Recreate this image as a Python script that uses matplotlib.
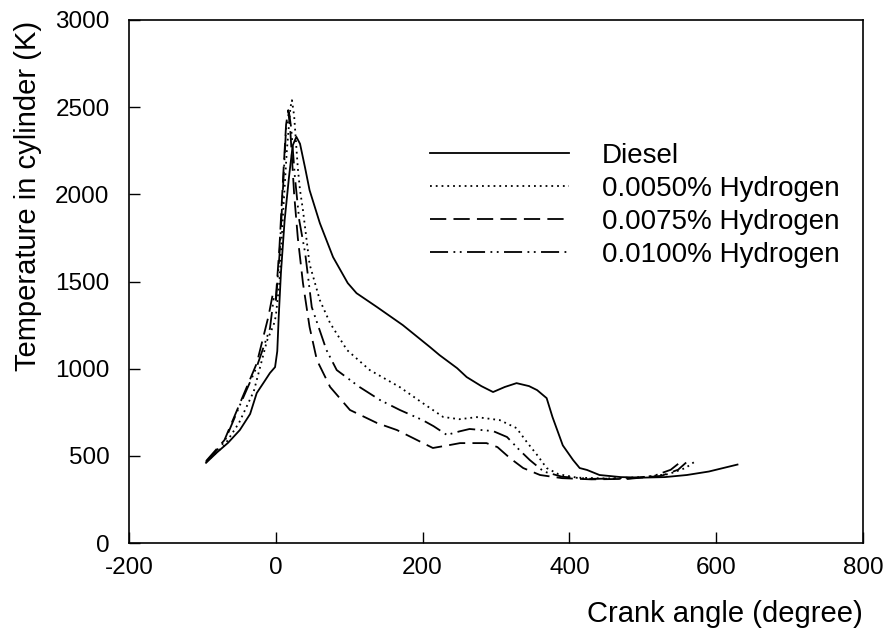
import matplotlib
matplotlib.use("Agg")
import matplotlib.pyplot as plt

plt.rcParams['font.family'] = ['Liberation Sans', 'DejaVu Sans']
plt.rcParams['axes.unicode_minus'] = False

# Diesel
diesel_x = [-95, -80, -65, -49, -35, -26, -15, -8, -1, 2, 4, 7, 12, 18, 23, 28, 33, 40, 46, 60, 78, 98, 110,
            138, 173, 210, 223, 247, 260, 280, 296, 312, 328, 345, 356, 369, 377, 391, 405, 414, 424, 441,
            470, 500, 530, 560, 590, 629]
diesel_y = [460, 520, 575, 648, 740, 860, 930, 975, 1009, 1100, 1300, 1550, 1850, 2100, 2280, 2330, 2290,
            2150, 2024, 1835, 1640, 1491, 1433, 1353, 1250, 1124, 1078, 1003, 952, 900, 866, 895, 917, 900,
            877, 831, 722, 560, 476, 430, 419, 390, 378, 375, 378, 390, 410, 450]

# 0.0050% Hydrogen
h050_x = [-95, -70, -50, -30, -12, -3, 0, 5, 10, 15, 20, 22, 25, 30, 33, 37, 42, 46, 60, 74, 97, 128, 169,
          200, 228, 250, 274, 305, 328, 342, 356, 369, 385, 410, 450, 500, 535, 558, 572]
h050_y = [465, 560, 690, 870, 1160, 1250, 1300, 1500, 1900, 2250, 2500, 2540, 2450, 2150, 2024, 1909, 1737,
          1600, 1393, 1261, 1107, 992, 894, 803, 723, 710, 722, 705, 659, 579, 505, 430, 395, 375, 370,
          378, 395, 430, 470]

# 0.0075% Hydrogen
h075_x = [-95, -70, -49, -26, -10, -4, 0, 5, 10, 14, 17, 20, 25, 30, 37, 46, 56, 74, 101, 138, 165, 187,
          214, 237, 251, 287, 302, 319, 337, 360, 390, 430, 480, 525, 548, 560]
h075_y = [470, 590, 800, 1030, 1300, 1430, 1400, 1700, 2100, 2400, 2483, 2350, 2000, 1750, 1491, 1239,
          1049, 895, 763, 688, 648, 602, 545, 562, 573, 573, 550, 487, 430, 390, 372, 365, 368, 385, 420, 465]

# 0.0100% Hydrogen
h100_x = [-95, -70, -49, -26, -8, -3, 0, 5, 10, 14, 18, 21, 26, 32, 40, 49, 69, 83, 114, 142, 169, 200,
          215, 233, 250, 264, 296, 315, 332, 346, 365, 390, 430, 480, 515, 538, 550]
h100_y = [465, 580, 790, 1010, 1230, 1400, 1380, 1650, 2050, 2380, 2470, 2380, 2100, 1850, 1663, 1353,
          1107, 992, 895, 820, 763, 705, 670, 620, 640, 654, 642, 608, 533, 476, 410, 380, 368, 370, 385,
          420, 460]

labels = ['Diesel', '0.0050% Hydrogen', '0.0075% Hydrogen', '0.0100% Hydrogen']
x_ticks = [-200, 0, 200, 400, 600, 800]
y_ticks = [0, 500, 1000, 1500, 2000, 2500, 3000]

fig = plt.figure(figsize=(8.93, 6.35), dpi=100)
ax = fig.add_axes([129 / 893, 1 - 543 / 635, (863 - 129) / 893, (543 - 20) / 635])

lw = 1.3
ax.plot(diesel_x, diesel_y, color='black', lw=lw, linestyle='-', label=labels[0])
ax.plot(h050_x, h050_y, color='black', lw=lw, linestyle=(0, (1, 2.2)), label=labels[1])
ax.plot(h075_x, h075_y, color='black', lw=lw, linestyle=(0, (9, 4)), label=labels[2])
ax.plot(h100_x, h100_y, color='black', lw=lw, linestyle=(0, (10, 3, 1, 2.5, 1, 3)), label=labels[3])

ax.set_xlim(-200, 800)
ax.set_ylim(0, 3000)
ax.set_xticks(x_ticks)
ax.set_yticks(y_ticks)
ax.tick_params(direction='in', length=8, width=1, labelsize=17.5, top=False, right=False)
ax.tick_params(axis='y', pad=14)
ax.tick_params(axis='x', pad=10)
for s in ax.spines.values():
    s.set_linewidth(1.2)

ax.set_xlabel('Crank angle (degree)', fontsize=21, ha='right', va='center')
ax.xaxis.set_label_coords(1.0, -0.135)
ax.set_ylabel('Temperature in cylinder (K)', fontsize=21, va='center')
ax.yaxis.set_label_coords(-0.1376, 0.663)

ax.legend(loc='upper left', bbox_to_anchor=(430 / 893, 1 - 143 / 635), bbox_transform=fig.transFigure,
          frameon=False, fontsize=20, handlelength=5.0, handletextpad=1.2, labelspacing=0.25,
          borderpad=0, borderaxespad=0)

fig.savefig('out.png', dpi=100)
